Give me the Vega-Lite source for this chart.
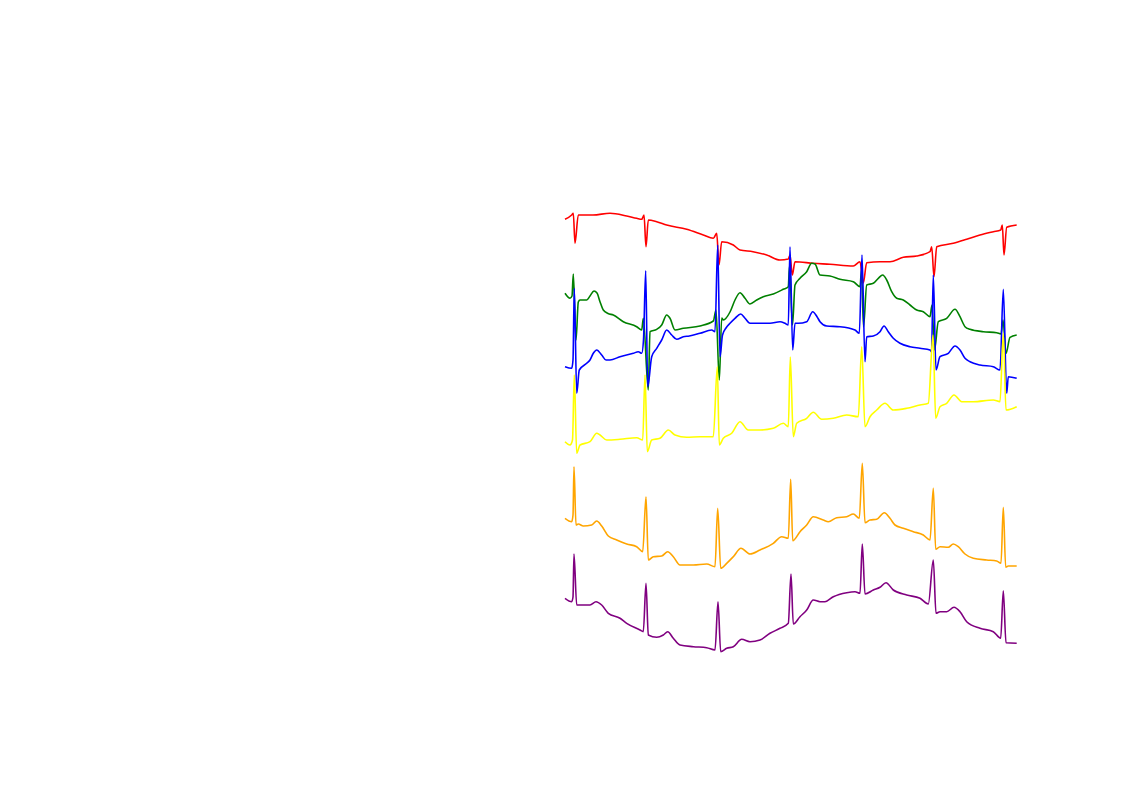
{
"$schema":"https://vega.github.io/schema/vega-lite/v6.json",
"width":1122,"height":793,"padding":0,"autosize":{"type":"none"},
"background":"white",
"config":{"view":{"stroke":null}},
"datasets":{"ecg":[
{"lead":"I","t":-1,"a":573.7},{"lead":"I","t":5.7,"a":578},{"lead":"I","t":7.3,"a":579.7},{"lead":"I","t":9,"a":549.7},{"lead":"I","t":12.3,"a":578},{"lead":"I","t":27,"a":578},{"lead":"I","t":44,"a":579.7},{"lead":"I","t":60.7,"a":577},{"lead":"I","t":70.7,"a":574.7},{"lead":"I","t":75.7,"a":573.7},{"lead":"I","t":78,"a":578},{"lead":"I","t":80,"a":546.3},{"lead":"I","t":82.3,"a":573},{"lead":"I","t":90.7,"a":571.3},{"lead":"I","t":100.7,"a":568},{"lead":"I","t":120.7,"a":563.7},{"lead":"I","t":137.3,"a":558},{"lead":"I","t":147.3,"a":554.7},{"lead":"I","t":150.7,"a":559.7},{"lead":"I","t":153,"a":528},{"lead":"I","t":155.7,"a":551.3},{"lead":"I","t":167.3,"a":548},{"lead":"I","t":174,"a":543},{"lead":"I","t":187,"a":541.3},{"lead":"I","t":200.7,"a":538},{"lead":"I","t":214,"a":533},{"lead":"I","t":222.3,"a":534},{"lead":"I","t":224,"a":538},{"lead":"I","t":226.3,"a":518},{"lead":"I","t":229,"a":531.3},{"lead":"I","t":247.3,"a":529.7},{"lead":"I","t":264,"a":528.7},{"lead":"I","t":287.3,"a":527},{"lead":"I","t":294,"a":531.3},{"lead":"I","t":297.3,"a":510},{"lead":"I","t":300.7,"a":530.3},{"lead":"I","t":314,"a":531.3},{"lead":"I","t":324,"a":531.3},{"lead":"I","t":337.3,"a":535.7},{"lead":"I","t":350.7,"a":537},{"lead":"I","t":364,"a":541.3},{"lead":"I","t":365.7,"a":546.3},{"lead":"I","t":368,"a":516.3},{"lead":"I","t":370.7,"a":546.3},{"lead":"I","t":387.3,"a":549.7},{"lead":"I","t":400.7,"a":553.7},{"lead":"I","t":414,"a":558},{"lead":"I","t":427.3,"a":561.3},{"lead":"I","t":434.7,"a":563},{"lead":"I","t":436.3,"a":568},{"lead":"I","t":438,"a":538},{"lead":"I","t":440.7,"a":565.7},{"lead":"I","t":450.7,"a":568},

{"lead":"II","t":-1,"a":499.7},{"lead":"II","t":4,"a":494.7},{"lead":"II","t":6,"a":497},{"lead":"II","t":7.3,"a":519},{"lead":"II","t":10,"a":453},{"lead":"II","t":12.3,"a":491},{"lead":"II","t":14,"a":493},{"lead":"II","t":20.7,"a":493},{"lead":"II","t":24,"a":497},{"lead":"II","t":28,"a":502},{"lead":"II","t":31,"a":500},{"lead":"II","t":34,"a":491.3},{"lead":"II","t":37.3,"a":483},{"lead":"II","t":42,"a":479.5},{"lead":"II","t":47.3,"a":478},{"lead":"II","t":57.3,"a":471.3},{"lead":"II","t":70.7,"a":466.3},{"lead":"II","t":75.7,"a":463},{"lead":"II","t":77.3,"a":474.7},{"lead":"II","t":82.3,"a":403},{"lead":"II","t":84,"a":461.3},{"lead":"II","t":90.7,"a":463.7},{"lead":"II","t":95.7,"a":468},{"lead":"II","t":100.7,"a":478},{"lead":"II","t":104,"a":474.7},{"lead":"II","t":109,"a":463},{"lead":"II","t":117.3,"a":464.7},{"lead":"II","t":134,"a":467},{"lead":"II","t":147.3,"a":472},{"lead":"II","t":150,"a":483},{"lead":"II","t":153.3,"a":413},{"lead":"II","t":155.7,"a":475},{"lead":"II","t":157.3,"a":473},{"lead":"II","t":164,"a":481},{"lead":"II","t":169,"a":493},{"lead":"II","t":174,"a":500.3},{"lead":"II","t":179,"a":494.7},{"lead":"II","t":184,"a":489},{"lead":"II","t":190.7,"a":493},{"lead":"II","t":197.3,"a":496.3},{"lead":"II","t":207.3,"a":499},{"lead":"II","t":217.3,"a":503.7},{"lead":"II","t":222.3,"a":506.3},{"lead":"II","t":223.5,"a":527},{"lead":"II","t":226.5,"a":468},{"lead":"II","t":229,"a":508},{"lead":"II","t":234,"a":514.7},{"lead":"II","t":240.7,"a":521.3},{"lead":"II","t":245.7,"a":529.7},{"lead":"II","t":249,"a":529},{"lead":"II","t":254,"a":518},{"lead":"II","t":264,"a":517},{"lead":"II","t":274,"a":513.7},{"lead":"II","t":287.3,"a":511.3},{"lead":"II","t":294,"a":506.3},{"lead":"II","t":295.5,"a":523},{"lead":"II","t":297.5,"a":466},{"lead":"II","t":300.7,"a":508},{"lead":"II","t":307.3,"a":509.7},{"lead":"II","t":312.3,"a":514.7},{"lead":"II","t":316.7,"a":518},{"lead":"II","t":320.7,"a":513},{"lead":"II","t":325.7,"a":501.3},{"lead":"II","t":330.7,"a":494.7},{"lead":"II","t":337.3,"a":493},{"lead":"II","t":344,"a":488},{"lead":"II","t":350.7,"a":483},{"lead":"II","t":357.3,"a":481.3},{"lead":"II","t":364,"a":476.3},{"lead":"II","t":366,"a":488},{"lead":"II","t":368.5,"a":443},{"lead":"II","t":372.3,"a":471.3},{"lead":"II","t":380.7,"a":474.7},{"lead":"II","t":389,"a":483.7},{"lead":"II","t":394,"a":476.3},{"lead":"II","t":399,"a":466.3},{"lead":"II","t":404,"a":463.7},{"lead":"II","t":417.3,"a":461.3},{"lead":"II","t":430.7,"a":460.3},{"lead":"II","t":435,"a":459},{"lead":"II","t":437,"a":473},{"lead":"II","t":440,"a":439.7},{"lead":"II","t":444,"a":455.7},{"lead":"II","t":450.7,"a":458},

{"lead":"III","t":-1,"a":426.3},{"lead":"III","t":5.7,"a":424.7},{"lead":"III","t":7,"a":433},{"lead":"III","t":8.3,"a":504.7},{"lead":"III","t":10.7,"a":399.7},{"lead":"III","t":13.3,"a":423},{"lead":"III","t":20.7,"a":429.7},{"lead":"III","t":24,"a":433},{"lead":"III","t":27.3,"a":439.7},{"lead":"III","t":30.7,"a":443},{"lead":"III","t":35.7,"a":438},{"lead":"III","t":40,"a":433},{"lead":"III","t":44,"a":433},{"lead":"III","t":54,"a":436.3},{"lead":"III","t":67.3,"a":439.7},{"lead":"III","t":72.3,"a":441.3},{"lead":"III","t":75.7,"a":439.7},{"lead":"III","t":77.5,"a":453},{"lead":"III","t":79.7,"a":522.3},{"lead":"III","t":81.7,"a":406.3},{"lead":"III","t":85.7,"a":436.3},{"lead":"III","t":90.7,"a":444.7},{"lead":"III","t":95.7,"a":453},{"lead":"III","t":100.7,"a":463},{"lead":"III","t":105.7,"a":458},{"lead":"III","t":110.7,"a":453.7},{"lead":"III","t":117.3,"a":456.3},{"lead":"III","t":123.3,"a":457},{"lead":"III","t":134,"a":459.7},{"lead":"III","t":145.7,"a":463},{"lead":"III","t":149,"a":461.3},{"lead":"III","t":151.7,"a":548},{"lead":"III","t":154,"a":436.3},{"lead":"III","t":156.5,"a":458},{"lead":"III","t":160,"a":465},{"lead":"III","t":164,"a":469.7},{"lead":"III","t":169,"a":474.7},{"lead":"III","t":174.7,"a":479},{"lead":"III","t":179,"a":474.7},{"lead":"III","t":184,"a":469.7},{"lead":"III","t":194,"a":469.7},{"lead":"III","t":204,"a":469.7},{"lead":"III","t":214,"a":471.3},{"lead":"III","t":219,"a":469.7},{"lead":"III","t":222.3,"a":468},{"lead":"III","t":224,"a":546.3},{"lead":"III","t":226.7,"a":443},{"lead":"III","t":229,"a":469.7},{"lead":"III","t":232.3,"a":469.7},{"lead":"III","t":240.7,"a":471.3},{"lead":"III","t":246.7,"a":481.3},{"lead":"III","t":251,"a":476.3},{"lead":"III","t":254,"a":471.3},{"lead":"III","t":260.7,"a":467},{"lead":"III","t":274,"a":466.3},{"lead":"III","t":289,"a":463},{"lead":"III","t":293.3,"a":459.7},{"lead":"III","t":296,"a":538},{"lead":"III","t":299,"a":431.3},{"lead":"III","t":300.7,"a":456.3},{"lead":"III","t":307.3,"a":457},{"lead":"III","t":314,"a":461.3},{"lead":"III","t":318,"a":467},{"lead":"III","t":322.3,"a":461.3},{"lead":"III","t":327.3,"a":454.7},{"lead":"III","t":334,"a":449.7},{"lead":"III","t":344,"a":446.3},{"lead":"III","t":354,"a":444.7},{"lead":"III","t":364,"a":443},{"lead":"III","t":365.5,"a":441},{"lead":"III","t":367.3,"a":518},{"lead":"III","t":370,"a":423},{"lead":"III","t":374,"a":436.3},{"lead":"III","t":382.3,"a":439.7},{"lead":"III","t":389,"a":447},{"lead":"III","t":394,"a":443},{"lead":"III","t":399,"a":434.7},{"lead":"III","t":404,"a":431.3},{"lead":"III","t":414,"a":428},{"lead":"III","t":427.3,"a":426.3},{"lead":"III","t":434,"a":423},{"lead":"III","t":437.3,"a":503.7},{"lead":"III","t":440.7,"a":399.7},{"lead":"III","t":442.3,"a":416.3},{"lead":"III","t":450.7,"a":414.7},

{"lead":"aVR","t":-1,"a":351.3},{"lead":"aVR","t":4,"a":348},{"lead":"aVR","t":6.5,"a":353},{"lead":"aVR","t":8.3,"a":418},{"lead":"aVR","t":10.7,"a":339.7},{"lead":"aVR","t":14,"a":348},{"lead":"aVR","t":24,"a":351.3},{"lead":"aVR","t":30.7,"a":359.7},{"lead":"aVR","t":34,"a":358},{"lead":"aVR","t":40.7,"a":353},{"lead":"aVR","t":54,"a":353.7},{"lead":"aVR","t":70.7,"a":355.3},{"lead":"aVR","t":76.7,"a":353},{"lead":"aVR","t":79,"a":418},{"lead":"aVR","t":81.3,"a":341.3},{"lead":"aVR","t":85.7,"a":353},{"lead":"aVR","t":94,"a":354.7},{"lead":"aVR","t":102.3,"a":363},{"lead":"aVR","t":109,"a":358},{"lead":"aVR","t":120.7,"a":355.7},{"lead":"aVR","t":134,"a":356.3},{"lead":"aVR","t":147.3,"a":356.3},{"lead":"aVR","t":151.3,"a":426.3},{"lead":"aVR","t":153.3,"a":348},{"lead":"aVR","t":157.3,"a":354.7},{"lead":"aVR","t":165.7,"a":359.7},{"lead":"aVR","t":174,"a":371.3},{"lead":"aVR","t":182.3,"a":363},{"lead":"aVR","t":194,"a":363},{"lead":"aVR","t":207.3,"a":364.7},{"lead":"aVR","t":217.3,"a":369.7},{"lead":"aVR","t":222.3,"a":366.3},{"lead":"aVR","t":224.3,"a":436},{"lead":"aVR","t":227.3,"a":356.3},{"lead":"aVR","t":230.7,"a":369.7},{"lead":"aVR","t":240.7,"a":374.7},{"lead":"aVR","t":247.3,"a":380.7},{"lead":"aVR","t":255.7,"a":373.7},{"lead":"aVR","t":267.3,"a":374.7},{"lead":"aVR","t":280.7,"a":378},{"lead":"aVR","t":292.3,"a":376.3},{"lead":"aVR","t":295.7,"a":446.3},{"lead":"aVR","t":299,"a":366.3},{"lead":"aVR","t":304,"a":376.3},{"lead":"aVR","t":310.7,"a":383},{"lead":"aVR","t":319,"a":389.7},{"lead":"aVR","t":327.3,"a":383},{"lead":"aVR","t":340.7,"a":384.7},{"lead":"aVR","t":354,"a":388},{"lead":"aVR","t":362.3,"a":389.7},{"lead":"aVR","t":367,"a":458},{"lead":"aVR","t":369.7,"a":374.7},{"lead":"aVR","t":374,"a":386.3},{"lead":"aVR","t":380.7,"a":389.7},{"lead":"aVR","t":388,"a":398},{"lead":"aVR","t":395.7,"a":391.3},{"lead":"aVR","t":407.3,"a":391.3},{"lead":"aVR","t":427.3,"a":393},{"lead":"aVR","t":434,"a":391.3},{"lead":"aVR","t":437.3,"a":459.7},{"lead":"aVR","t":440,"a":383},{"lead":"aVR","t":450.7,"a":386.3},

{"lead":"aVL","t":-1,"a":274.7},{"lead":"aVL","t":5.7,"a":271.3},{"lead":"aVL","t":7,"a":278},{"lead":"aVL","t":8,"a":326.3},{"lead":"aVL","t":10,"a":268},{"lead":"aVL","t":12.3,"a":269},{"lead":"aVL","t":17.3,"a":267},{"lead":"aVL","t":25.7,"a":268},{"lead":"aVL","t":30.7,"a":272},{"lead":"aVL","t":35.7,"a":267},{"lead":"aVL","t":42.3,"a":257},{"lead":"aVL","t":50.7,"a":253},{"lead":"aVL","t":60.7,"a":249},{"lead":"aVL","t":70.7,"a":246.3},{"lead":"aVL","t":76.7,"a":241.3},{"lead":"aVL","t":80,"a":296.3},{"lead":"aVL","t":82.3,"a":233},{"lead":"aVL","t":87.3,"a":236.3},{"lead":"aVL","t":95.7,"a":237},{"lead":"aVL","t":101.7,"a":241.3},{"lead":"aVL","t":107.3,"a":236.3},{"lead":"aVL","t":114,"a":228},{"lead":"aVL","t":127.3,"a":228},{"lead":"aVL","t":140.7,"a":229},{"lead":"aVL","t":149,"a":226.3},{"lead":"aVL","t":151.7,"a":284.7},{"lead":"aVL","t":154.7,"a":224.7},{"lead":"aVL","t":160.7,"a":229.7},{"lead":"aVL","t":167.3,"a":236.3},{"lead":"aVL","t":175,"a":244.7},{"lead":"aVL","t":184,"a":239},{"lead":"aVL","t":194,"a":243},{"lead":"aVL","t":207.3,"a":249.7},{"lead":"aVL","t":215.7,"a":256.3},{"lead":"aVL","t":222.3,"a":254.7},{"lead":"aVL","t":224.7,"a":313.7},{"lead":"aVL","t":226.7,"a":252.3},{"lead":"aVL","t":234,"a":261.3},{"lead":"aVL","t":240.7,"a":268},{"lead":"aVL","t":247.3,"a":276.3},{"lead":"aVL","t":257.3,"a":273},{"lead":"aVL","t":262.3,"a":271.3},{"lead":"aVL","t":270.7,"a":275.3},{"lead":"aVL","t":280.7,"a":276.3},{"lead":"aVL","t":287.3,"a":279},{"lead":"aVL","t":293.3,"a":274.7},{"lead":"aVL","t":296.3,"a":329.7},{"lead":"aVL","t":299,"a":270.3},{"lead":"aVL","t":304,"a":273},{"lead":"aVL","t":310.7,"a":273.7},{"lead":"aVL","t":318.3,"a":280.3},{"lead":"aVL","t":324,"a":274.7},{"lead":"aVL","t":329,"a":268},{"lead":"aVL","t":337.3,"a":264.7},{"lead":"aVL","t":347.3,"a":261.3},{"lead":"aVL","t":357.3,"a":258},{"lead":"aVL","t":364,"a":253},{"lead":"aVL","t":367.3,"a":304.7},{"lead":"aVL","t":369.7,"a":243.7},{"lead":"aVL","t":374,"a":246.3},{"lead":"aVL","t":382.3,"a":245.7},{"lead":"aVL","t":387.3,"a":249},{"lead":"aVL","t":392.3,"a":246.3},{"lead":"aVL","t":399,"a":239},{"lead":"aVL","t":407.3,"a":234.7},{"lead":"aVL","t":420.7,"a":233},{"lead":"aVL","t":430.7,"a":232},{"lead":"aVL","t":435,"a":229.7},{"lead":"aVL","t":437.3,"a":285.7},{"lead":"aVL","t":439.7,"a":225.7},{"lead":"aVL","t":442.3,"a":227},{"lead":"aVL","t":450.7,"a":227},

{"lead":"aVF","t":-1,"a":194.7},{"lead":"aVF","t":5.7,"a":191.3},{"lead":"aVF","t":7,"a":196},{"lead":"aVF","t":8,"a":239},{"lead":"aVF","t":10.7,"a":188},{"lead":"aVF","t":14,"a":188},{"lead":"aVF","t":24,"a":188},{"lead":"aVF","t":30,"a":191.3},{"lead":"aVF","t":35.7,"a":188},{"lead":"aVF","t":42.3,"a":179.7},{"lead":"aVF","t":54,"a":174.7},{"lead":"aVF","t":60.7,"a":169.7},{"lead":"aVF","t":74,"a":163},{"lead":"aVF","t":77.3,"a":161.3},{"lead":"aVF","t":80,"a":209.7},{"lead":"aVF","t":82.3,"a":158},{"lead":"aVF","t":90.7,"a":155.7},{"lead":"aVF","t":97.3,"a":158},{"lead":"aVF","t":101.7,"a":161.3},{"lead":"aVF","t":107.3,"a":154.7},{"lead":"aVF","t":114,"a":148},{"lead":"aVF","t":127.3,"a":146.3},{"lead":"aVF","t":140.7,"a":145.3},{"lead":"aVF","t":149,"a":143},{"lead":"aVF","t":152,"a":191.3},{"lead":"aVF","t":154.7,"a":141.3},{"lead":"aVF","t":160.7,"a":144.7},{"lead":"aVF","t":167.3,"a":146.3},{"lead":"aVF","t":175.7,"a":153.7},{"lead":"aVF","t":184,"a":151.3},{"lead":"aVF","t":194,"a":153},{"lead":"aVF","t":204,"a":159.7},{"lead":"aVF","t":214,"a":164.7},{"lead":"aVF","t":222.3,"a":169.7},{"lead":"aVF","t":225,"a":219},{"lead":"aVF","t":227.3,"a":169},{"lead":"aVF","t":234,"a":176.3},{"lead":"aVF","t":240.7,"a":183},{"lead":"aVF","t":247.3,"a":193},{"lead":"aVF","t":254,"a":191.3},{"lead":"aVF","t":259,"a":191.3},{"lead":"aVF","t":267.3,"a":196.3},{"lead":"aVF","t":280.7,"a":200.3},{"lead":"aVF","t":289,"a":201.3},{"lead":"aVF","t":294,"a":199.7},{"lead":"aVF","t":296.3,"a":249},{"lead":"aVF","t":299,"a":199},{"lead":"aVF","t":307.3,"a":203},{"lead":"aVF","t":314,"a":205.7},{"lead":"aVF","t":320,"a":210.3},{"lead":"aVF","t":327.3,"a":203},{"lead":"aVF","t":340.7,"a":198},{"lead":"aVF","t":354,"a":194.7},{"lead":"aVF","t":362.3,"a":189},{"lead":"aVF","t":367.3,"a":233},{"lead":"aVF","t":370,"a":179.7},{"lead":"aVF","t":374,"a":181.3},{"lead":"aVF","t":380.7,"a":181.3},{"lead":"aVF","t":388,"a":185.7},{"lead":"aVF","t":394,"a":181.3},{"lead":"aVF","t":400.7,"a":171.3},{"lead":"aVF","t":414,"a":164.7},{"lead":"aVF","t":427.3,"a":161.3},{"lead":"aVF","t":434.7,"a":154.7},{"lead":"aVF","t":437.3,"a":202.3},{"lead":"aVF","t":440,"a":150.3},{"lead":"aVF","t":450.7,"a":149.7}
]},
"data":{"name":"ecg"},
"mark":{"type":"line","strokeWidth":1.6,"interpolate":"monotone"},
"encoding":{
"x":{"field":"t","type":"quantitative","scale":{"domain":[-566,556],"nice":false,"zero":false},"axis":null},
"y":{"field":"a","type":"quantitative","scale":{"domain":[0,793],"nice":false,"zero":false},"axis":null},
"color":{"field":"lead","type":"nominal","scale":{"domain":["I","II","III","aVR","aVL","aVF"],"range":["#ff0000","#008000","#0000ff","#ffff00","#ffa500","#800080"]},"legend":null},
"order":{"field":"t","type":"quantitative"}
}
}
